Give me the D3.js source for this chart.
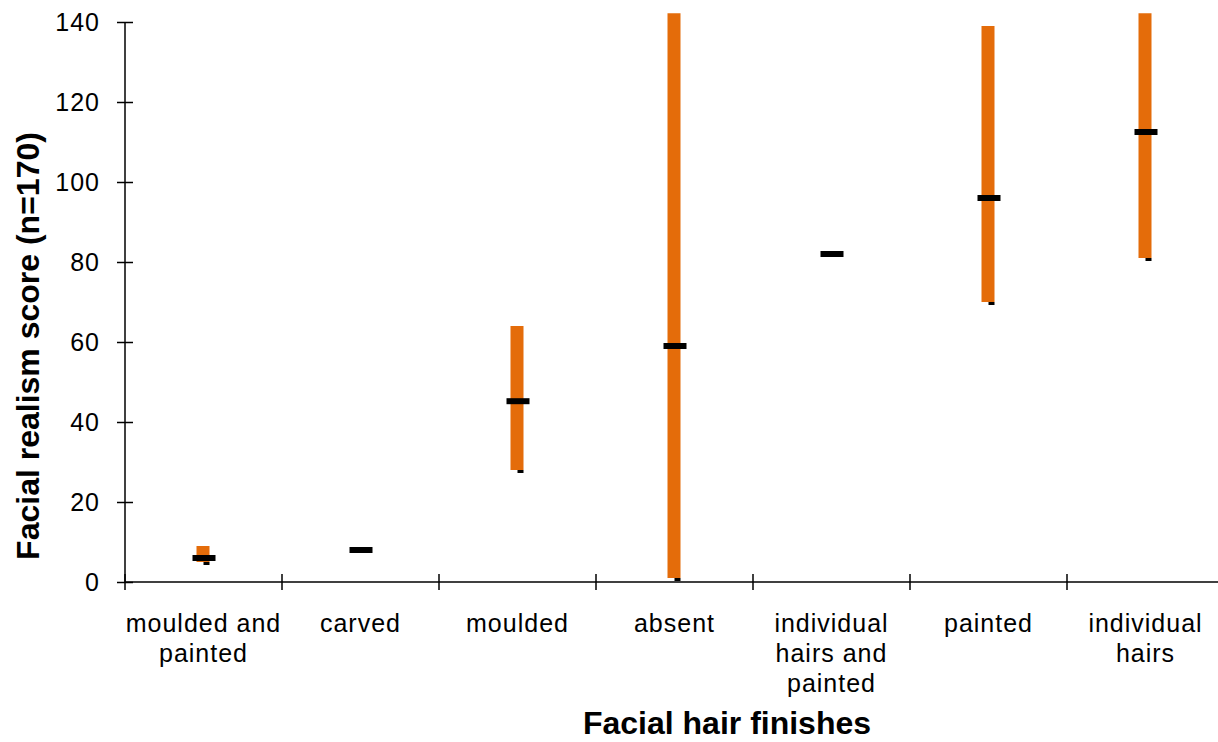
<!DOCTYPE html>
<html>
<head>
<meta charset="utf-8">
<script src="https://cdn.jsdelivr.net/npm/d3@7"></script>
<style>
  body { margin: 0; background: #fff; }
  svg { display: block; font-family: "Liberation Sans", Arial, sans-serif; }
</style>
</head>
<body>
<div id="chart"></div>
<script>
// Data
const categories = ["moulded and painted", "carved", "moulded", "absent",
  "individual hairs and painted", "painted", "individual hairs"];
const labelLines = [["moulded and", "painted"], ["carved"], ["moulded"], ["absent"],
  ["individual", "hairs and", "painted"], ["painted"], ["individual", "hairs"]];
const highs = [9, 8, 64, 160, 82, 139, 160];
const lows = [5, 8, 28, 1, 82, 70, 81];
const mids = [6, 8, 45.2, 59, 82, 96, 112.5];
const yTicks = [0, 20, 40, 60, 80, 100, 120, 140];

const w = 1218, h = 742;
const svg = d3.select("#chart").append("svg").attr("width", w).attr("height", h);

// scales
const x = d3.scaleBand().domain(categories).range([125, 125 + 7 * 157]);
const y = d3.scaleLinear().domain([0, 140]).range([582, 22]);

// clip for the plot area (bars run past the top)
svg.append("clipPath").attr("id", "plotclip")
  .append("rect")
  .attr("x", 125).attr("y", y(142.2))
  .attr("width", w).attr("height", y(0) - y(142.2));

const rows = categories.map((c, i) => ({ c, hi: highs[i], lo: lows[i], mid: mids[i] }));
const cx = d => x(d.c) + x.bandwidth() / 2;

const plot = svg.append("g").attr("clip-path", "url(#plotclip)");

// orange high-low bars
plot.selectAll("rect.bar").data(rows.filter(d => d.hi > d.lo)).enter()
  .append("rect").attr("class", "bar")
  .attr("x", d => cx(d) - 7)
  .attr("width", 13)
  .attr("y", d => y(d.hi))
  .attr("height", d => y(d.lo) - y(d.hi))
  .attr("fill", "#E46C0A");

// small tick at low
plot.selectAll("rect.low").data(rows).enter()
  .append("rect").attr("class", "low")
  .attr("x", d => cx(d))
  .attr("width", 6)
  .attr("y", d => y(d.lo))
  .attr("height", 3)
  .attr("fill", "#000");

// mid marker
plot.selectAll("rect.mid").data(rows).enter()
  .append("rect").attr("class", "mid")
  .attr("x", d => cx(d) - 11)
  .attr("width", 23)
  .attr("y", d => y(d.mid) - 3)
  .attr("height", 6)
  .attr("fill", "#000");

// y axis
const yAxis = svg.append("g")
  .attr("transform", "translate(125,0)")
  .call(d3.axisLeft(y).tickValues(yTicks).tickSize(8).tickPadding(17).tickSizeOuter(0));
yAxis.select(".domain").attr("d", `M0,${y(0)}V${y(140)}`).attr("stroke", "#000").attr("stroke-width", 1.5);
yAxis.selectAll(".tick line").attr("x1", 8).attr("stroke", "#000").attr("stroke-width", 1.5);
yAxis.selectAll(".tick text")
  .attr("font-size", 25).attr("letter-spacing", 1).attr("fill", "#000")
  .attr("font-family", "Liberation Sans, Arial, sans-serif");

// x axis
const xg = svg.append("g").attr("transform", `translate(0,${y(0)})`);
xg.append("line")
  .attr("x1", x.range()[0]).attr("x2", x.range()[1])
  .attr("stroke", "#000").attr("stroke-width", 1.5);
const bounds = categories.map(c => x(c)).concat([x.range()[1]]);
xg.selectAll("line.tk").data(bounds).enter()
  .append("line").attr("class", "tk")
  .attr("x1", d => d).attr("x2", d => d)
  .attr("y1", -8).attr("y2", 8)
  .attr("stroke", "#000").attr("stroke-width", 1.5);

const lbl = svg.append("g").selectAll("text").data(categories).enter()
  .append("text")
  .attr("text-anchor", "middle")
  .attr("font-size", 25)
  .attr("letter-spacing", 1)
  .attr("fill", "#000");
lbl.each(function (c, i) {
  const t = d3.select(this);
  labelLines[i].forEach((line, j) => {
    t.append("tspan")
      .attr("x", x(c) + x.bandwidth() / 2)
      .attr("y", 632 + j * 30)
      .text(line);
  });
});

// axis titles
svg.append("text")
  .attr("transform", "translate(39,346) rotate(-90)")
  .attr("text-anchor", "middle")
  .attr("font-size", 32)
  .attr("font-weight", "bold")
  .text("Facial realism score (n=170)");

svg.append("text")
  .attr("x", 727).attr("y", 734)
  .attr("text-anchor", "middle")
  .attr("font-size", 32)
  .attr("font-weight", "bold")
  .text("Facial hair finishes");
</script>
</body>
</html>
